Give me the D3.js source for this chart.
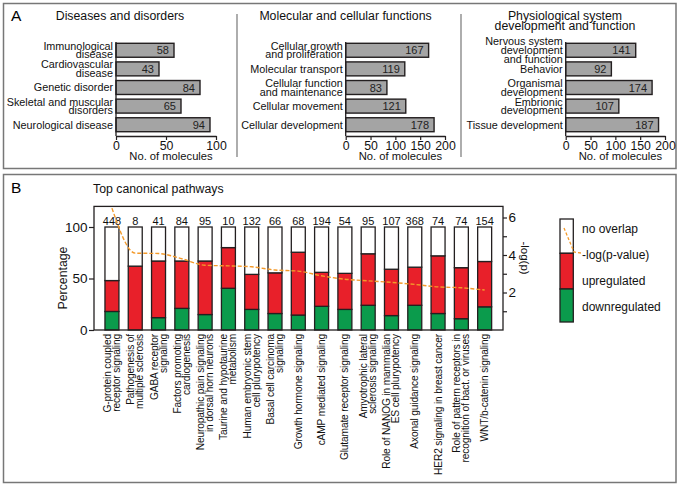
<!DOCTYPE html>
<html><head><meta charset="utf-8">
<script src="https://cdn.jsdelivr.net/npm/d3@7"></script>
<style>
body{margin:0;background:#fff;}
svg{display:block;font-family:"Liberation Sans",Arial,sans-serif;}
</style></head>
<body>
<svg id="c" width="680" height="486"></svg>
<script>
// ---------- Panel A data ----------
const diseaseCats = ["Immunological\ndisease","Cardiovascular\ndisease","Genetic disorder","Skeletal and muscular\ndisorders","Neurological disease"];
const diseaseVals = [58,43,84,65,94];
const molecularCats = ["Cellular growth\nand proliferation","Molecular transport","Cellular function\nand maintenance","Cellular movement","Cellular development"];
const molecularVals = [167,119,83,121,178];
const physioCats = ["Nervous system\ndevelopment\nand function","Behavior","Organismal\ndevelopment","Embrionic\ndevelopment","Tissue development"];
const physioVals = [141,92,174,107,187];
const panelATitles = [["Diseases and disorders"],["Molecular and cellular functions"],["Physiological system","development and function"]];
const panelAXTicks = [[0,50,100],[0,50,100,150,200],[0,50,100,150,200]];

// ---------- Panel B data ----------
const pathways = ["G-protein coupled\nreceptor signaling","Pathogenesis of\nmultiple sclerosis","GABA receptor\nsignaling","Factors promoting\ncardiogenesis","Neuropathic pain signaling\nin dorsal horn neurons","Taurine and hypotaurine\nmetabolism","Human embryonic stem\ncell plurypotency","Basal cell carcinoma\nsignaling","Growth hormone signaling","cAMP mediated signaling","Glutamate receptor signaling","Amyotrophic lateral\nsclerosis signaling","Role of NANOG in mammalian\nES cell plurypotency","Axonal guidance signaling","HER2 signaling in breast cancer","Role of pattern receptors in\nrecognition of bact. or viruses","WNT/b-catenin signaling"];
const pathwaySizes = [448,8,41,84,95,10,132,66,68,194,54,95,107,368,74,74,154];
const downPct = [18,0,12,21,15,40.5,20,16,14.5,23,20,24,14,24,16,11,22.5];
const upPct   = [30,62,55,46,52,39.5,34,39.5,61,33,35,50,45,37,56,49.5,44];
const negLogP = [6.5,4.1,4.08,3.8,3.45,3.42,3.37,3.2,3.14,2.89,2.71,2.62,2.54,2.43,2.3,2.25,2.13];
const pctTicks = [0,50,100];
const pTicks = [1,2,3,4,5,6];
const legendLabels = ["no overlap","-log(p-value)","upregulated","downregulated"];

const svg = d3.select("#c");
const DARK = "#231f20", FRAME = "#777", RED = "#e8202a", GREEN = "#0b9b4c", GRAY = "#a4a4a4", ORANGE = "#f39a2b";

// ---------- Frames ----------
svg.append("rect").attr("x",3.5).attr("y",3.5).attr("width",672.5).attr("height",165).attr("fill","none").attr("stroke",FRAME).attr("stroke-width",1.5);
svg.append("rect").attr("x",3.5).attr("y",174.5).attr("width",672.5).attr("height",308).attr("fill","none").attr("stroke",FRAME).attr("stroke-width",1.5);
[237,461].forEach(x=>svg.append("line").attr("x1",x).attr("x2",x).attr("y1",14).attr("y2",157).attr("stroke",FRAME).attr("stroke-width",1.2));
svg.append("text").attr("x",11).attr("y",20.5).attr("font-size",15.5).text("A");
svg.append("text").attr("x",11).attr("y",193).attr("font-size",15.5).text("B");

// ---------- Panel A ----------
const subDefs = [
  {cats:diseaseCats, vals:diseaseVals, x0:116, x1:216, max:100, tc:120},
  {cats:molecularCats, vals:molecularVals, x0:345.7, x1:445, max:200, tc:345.5},
  {cats:physioCats, vals:physioVals, x0:565.7, x1:665, max:200, tc:565}
];
subDefs.forEach((d,k)=>{
  const g = svg.append("g");
  const x = d3.scaleLinear().domain([0,d.max]).range([d.x0,d.x1]);
  const y = d3.scaleBand().domain(d.cats).range([40.5,134.5]).paddingInner(0.25).paddingOuter(0.15);
  panelATitles[k].forEach((t,i)=>g.append("text").attr("x",d.tc).attr("y",19.5+i*10.3).attr("text-anchor","middle").attr("font-size",12.3).attr("fill","#111").text(t));
  g.selectAll("rect.b").data(d.cats).join("rect").attr("class","b")
    .attr("x",x(0)).attr("y",c=>y(c)).attr("width",(c,i)=>x(d.vals[i])-x(0)).attr("height",y.bandwidth())
    .attr("fill",GRAY).attr("stroke",DARK).attr("stroke-width",1.4);
  g.selectAll("text.v").data(d.cats).join("text").attr("class","v")
    .attr("x",(c,i)=>x(d.vals[i])-5).attr("y",c=>y(c)+y.bandwidth()/2+4)
    .attr("text-anchor","end").attr("font-size",11).attr("fill","#222").text((c,i)=>d.vals[i]);
  d.cats.forEach(c=>{
    const lines = c.split("\n");
    const cy = y(c)+y.bandwidth()/2;
    const t = g.append("text").attr("text-anchor","end").attr("font-size",10.8).attr("fill","#111");
    lines.forEach((ln,i)=>{
      t.append("tspan").attr("x",d.x0-3).attr("y",cy+3.8+(i-(lines.length-1)/2)*8.6).text(ln);
    });
  });
  g.append("line").attr("x1",d.x0).attr("x2",d.x0).attr("y1",42).attr("y2",136).attr("stroke",DARK).attr("stroke-width",1.3);
  const ax = g.append("g").attr("transform","translate(0,136)")
    .call(d3.axisBottom(x).tickValues(panelAXTicks[k]).tickSize(4).tickPadding(1.5).tickSizeOuter(0));
  ax.select(".domain").attr("stroke",DARK).attr("stroke-width",1.3);
  ax.selectAll(".tick line").attr("stroke",DARK).attr("stroke-width",1.2);
  ax.selectAll(".tick text").attr("font-size",12.3).attr("fill","#111").attr("font-family","Liberation Sans, Arial, sans-serif");
  g.append("text").attr("x",(d.x0+d.x1)/2+5).attr("y",159.5).attr("text-anchor","middle").attr("font-size",11.2).attr("fill","#111").text("No. of molecules");
});

// ---------- Panel B ----------
const gb = svg.append("g");
gb.append("text").attr("x",93).attr("y",193).attr("font-size",12.3).attr("fill","#111").text("Top canonical pathways");
const xb = d3.scaleBand().domain(pathways).range([100.3,496.3]).paddingInner(0.4).paddingOuter(0.2);
const yb = d3.scaleLinear().domain([0,100]).range([330,227]);
const yp = d3.scaleLinear().domain([0,6]).range([330,217.5]);
const fLeft = 94, fRight = 503, fTop = yb(120), fBottom = yb(0);

const stack = pathways.map((p,i)=>({p, segs:[
  {y0:0, y1:downPct[i], c:GREEN},
  {y0:downPct[i], y1:downPct[i]+upPct[i], c:RED},
  {y0:downPct[i]+upPct[i], y1:100, c:"#fff"}]}));
stack.forEach(s=>{
  s.segs.forEach(sg=>{
    if (sg.y1-sg.y0<=0) return;
    gb.append("rect").attr("x",xb(s.p)).attr("width",xb.bandwidth())
      .attr("y",yb(sg.y1)).attr("height",yb(sg.y0)-yb(sg.y1))
      .attr("fill",sg.c).attr("stroke",DARK).attr("stroke-width",1.3);
  });
});
gb.selectAll("text.n").data(pathways).join("text").attr("class","n")
  .attr("x",p=>xb(p)+xb.bandwidth()/2).attr("y",225).attr("text-anchor","middle").attr("font-size",11).attr("fill","#111")
  .text((p,i)=>pathwaySizes[i]);

const line = d3.line().x((v,i)=>xb(pathways[i])+xb.bandwidth()/2).y(v=>yp(v)).curve(d3.curveMonotoneX);
gb.append("path").attr("d",line(negLogP)).attr("fill","none").attr("stroke",ORANGE).attr("stroke-width",1.4).attr("stroke-dasharray","4,2");

gb.append("rect").attr("x",fLeft).attr("y",fTop).attr("width",fRight-fLeft).attr("height",fBottom-fTop).attr("fill","none").attr("stroke",DARK).attr("stroke-width",1.3);
const la = gb.append("g").attr("transform",`translate(${fLeft},0)`).call(d3.axisLeft(yb).tickValues(pctTicks).tickSize(5).tickPadding(1.5).tickSizeOuter(0));
la.select(".domain").remove();
la.selectAll(".tick line").attr("stroke",DARK).attr("stroke-width",1.2);
la.selectAll(".tick text").attr("font-size",13.5).attr("fill","#111").attr("font-family","Liberation Sans, Arial, sans-serif");
const ra = gb.append("g").attr("transform",`translate(${fRight},0)`).call(d3.axisRight(yp).tickValues(pTicks).tickSize(4).tickPadding(1.5).tickFormat(v=>v%2===0?v:"").tickSizeOuter(0));
ra.select(".domain").remove();
ra.selectAll(".tick line").attr("stroke",DARK).attr("stroke-width",1.2);
ra.selectAll(".tick text").attr("font-size",13.5).attr("fill","#111").attr("font-family","Liberation Sans, Arial, sans-serif");
gb.append("text").attr("transform","translate(67,278) rotate(-90)").attr("text-anchor","middle").attr("font-size",12.3).attr("fill","#111").text("Percentage");
gb.append("text").attr("transform","translate(521,258) rotate(90)").attr("text-anchor","middle").attr("font-size",11.5).attr("fill","#111").text("-log(p)");

pathways.forEach(p=>{
  const lines = p.split("\n");
  const cx = xb(p)+xb.bandwidth()/2;
  const t = gb.append("text").attr("transform",`translate(${cx},334) rotate(-90)`).attr("text-anchor","end")
    .attr("font-size",10.2).attr("letter-spacing","-0.15px").attr("fill","#111");
  lines.forEach((ln,i)=>{
    t.append("tspan").attr("x",0).attr("y",3.5+(i-(lines.length-1)/2)*9).text(ln);
  });
});

const lg = gb.append("g");
const legColors = ["#fff",RED,GREEN];
const legY = [219,253.3,289,322];
legColors.forEach((c,i)=>lg.append("rect").attr("x",560).attr("y",legY[i]).attr("width",13.3).attr("height",legY[i+1]-legY[i]).attr("fill",c).attr("stroke",DARK).attr("stroke-width",1.3));
lg.append("path").attr("d","M564,228 L574,252 L581,253").attr("fill","none").attr("stroke",ORANGE).attr("stroke-width",1.3).attr("stroke-dasharray","3,2");
const legTextY = [233,258.5,284.5,311];
legendLabels.forEach((t,i)=>lg.append("text").attr("x",582).attr("y",legTextY[i]).attr("font-size",12).attr("fill","#111").text(t));
</script>
</body></html>
